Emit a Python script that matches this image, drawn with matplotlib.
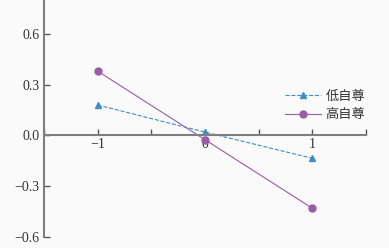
import matplotlib.pyplot as plt
from matplotlib.ticker import MultipleLocator, FuncFormatter

# x positions of the three conditions
x = [-1, 0, 1]
low_self = [0.18, 0.02, -0.135]
high_self = [0.38, -0.025, -0.43]
labels = ["低自尊", "高自尊"]
y_ticks = [-0.6, -0.3, 0.0, 0.3, 0.6]

plt.rcParams["font.family"] = ["Liberation Serif", "Noto Sans CJK SC"]
plt.rcParams["axes.unicode_minus"] = True

fig = plt.figure(figsize=(3.89, 2.48), dpi=100, facecolor="#fafafa")
ax = fig.add_axes([0.113, 0.044, 0.828, 0.956])
ax.set_facecolor("#fafafa")

ax.plot(x, low_self, linestyle="--", color="#3d8fc6", linewidth=0.8,
        marker="^", markersize=5, label=labels[0])
ax.plot(x, high_self, linestyle="-", color="#9a5ca6", linewidth=0.8,
        marker="o", markersize=5, label=labels[1])

ax.set_xlim(-1.5, 1.5)
ax.set_ylim(-0.6, 0.8)

for s in ["top", "right"]:
    ax.spines[s].set_visible(False)
ax.spines["bottom"].set_position(("data", 0))
for s in ["left", "bottom"]:
    ax.spines[s].set_color("#7f7f7f")
    ax.spines[s].set_linewidth(1.5)

ax.set_yticks(y_ticks)
ax.yaxis.set_major_formatter(FuncFormatter(lambda v, p: "%.1f" % v if v >= 0 else "\u2212%.1f" % -v))
ax.xaxis.set_major_locator(MultipleLocator(0.5))
ax.xaxis.set_major_formatter(FuncFormatter(
    lambda v, p: ("\u2212%d" % -round(v) if v < 0 else "%d" % round(v)) if abs(v - round(v)) < 1e-6 and abs(v) < 1.4 else ""))
ax.tick_params(axis="y", direction="in", length=4, width=1, color="#555555",
               labelsize=10, labelcolor="#333333", pad=3)
ax.tick_params(axis="x", direction="in", length=4, width=1, color="#555555",
               labelsize=10, labelcolor="#333333", pad=2)

ax.legend(loc="upper left", bbox_to_anchor=(0.71, 0.67), frameon=False,
          fontsize=9.5, handlelength=2.8, handletextpad=0.3, labelspacing=0.5,
          labelcolor="#333333")

plt.savefig("out.png", dpi=100, facecolor="#fafafa")
